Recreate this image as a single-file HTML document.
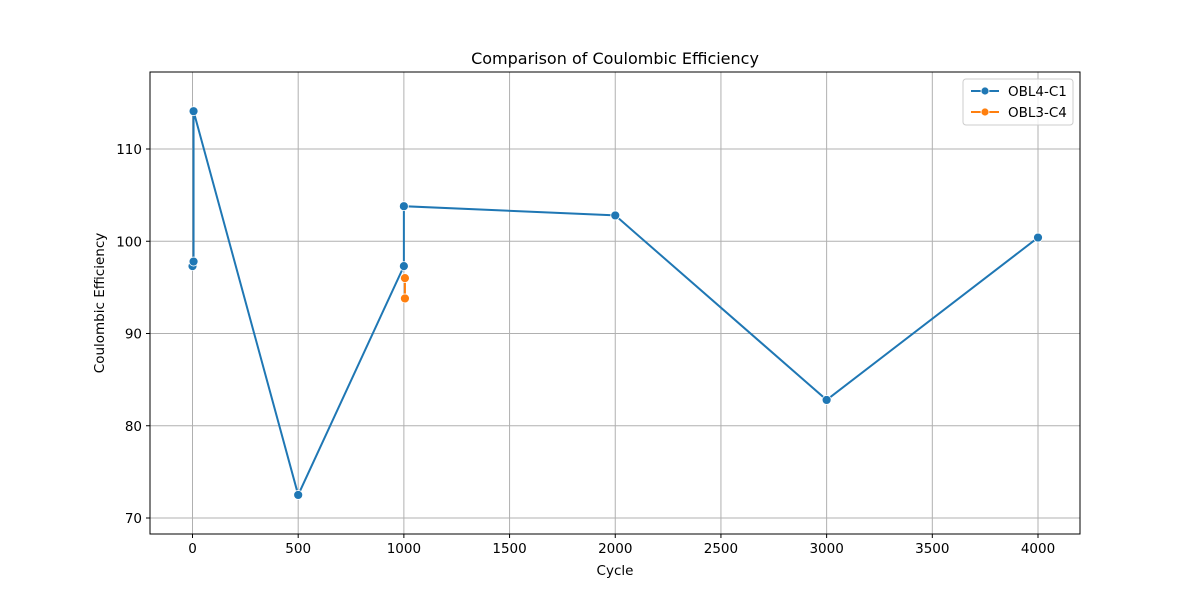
<!DOCTYPE html>
<html><head><meta charset="utf-8"><style>
body{margin:0;background:#fff;}
svg text{font-family:"DejaVu Sans","Liberation Sans",sans-serif;fill:#000;}
</style></head><body>
<svg width="1200" height="600" xmlns="http://www.w3.org/2000/svg">
<g id="grid"></g>
<g id="axes"></g>
<g id="series"></g>
<text x="615" y="64" font-size="16" text-anchor="middle">Comparison of Coulombic Efficiency</text>
<text x="615" y="575" font-size="13.5" text-anchor="middle">Cycle</text>
<text x="104" y="303" font-size="13.5" text-anchor="middle" transform="rotate(-90 104 303)">Coulombic Efficiency</text>
<g>
<rect x="963" y="79" width="110" height="46" rx="3" fill="#fff" fill-opacity="0.8" stroke="#ccc"/>
<g><line x1="971" y1="91" x2="999" y2="91" stroke="#1f77b4" stroke-width="2"/><circle cx="985" cy="91" r="4" fill="#1f77b4" stroke="#fff" stroke-width="0.8"/><text x="1008" y="96" font-size="13.5">OBL4-C1</text></g>
<g><line x1="971" y1="112" x2="999" y2="112" stroke="#ff7f0e" stroke-width="2"/><circle cx="985" cy="112" r="4" fill="#ff7f0e" stroke="#fff" stroke-width="0.8"/><text x="1008" y="117" font-size="13.5">OBL3-C4</text></g>
</g>
</svg>
<script>
const xTicks=[0,500,1000,1500,2000,2500,3000,3500,4000];
const yTicks=[70,80,90,100,110];
const s1x=[0,5,5,500,1000,1000,2000,3000,4000];
const s1y=[97.3,97.8,114.1,72.5,97.3,103.8,102.8,82.8,100.4];
const s2x=[1005,1005];
const s2y=[96.0,93.8];
const L=150,R=1080,T=72,B=534;
const X=v=>192.5+v*(1038-192.5)/4000;
const Y=v=>518-(v-70)*(518-149)/40;
const ns="http://www.w3.org/2000/svg";
function mk(t,a,p){const e=document.createElementNS(ns,t);for(const k in a)e.setAttribute(k,a[k]);p.appendChild(e);return e;}
const g=document.getElementById('grid'),ax=document.getElementById('axes'),se=document.getElementById('series');
xTicks.forEach(v=>{const x=X(v);
const l=mk('line',{x1:x,x2:x,y1:T,y2:B,stroke:'#b0b0b0','stroke-width':1},g);

mk('line',{x1:x,x2:x,y1:B,y2:B+4,stroke:'#000'},ax);
const t=mk('text',{x:x,y:B+19,'font-size':13.5,'text-anchor':'middle'},ax);t.textContent=v;
});
yTicks.forEach(v=>{const y=Y(v);
const l=mk('line',{x1:L,x2:R,y1:y,y2:y,stroke:'#b0b0b0','stroke-width':1},g);

mk('line',{x1:L-4,x2:L,y1:y,y2:y,stroke:'#000'},ax);
const t=mk('text',{x:L-8,y:y+5,'font-size':13.5,'text-anchor':'end'},ax);t.textContent=v;
});
const fr=mk('rect',{x:L,y:T,width:R-L,height:B-T,fill:'none',stroke:'#000','stroke-width':1},ax);

function draw(xs,ys,c,n){
const p=mk('polyline',{points:xs.map((x,i)=>X(x)+','+Y(ys[i])).join(' '),fill:'none',stroke:c,'stroke-width':2},se);

xs.forEach((x,i)=>{const m=mk('circle',{cx:X(x),cy:Y(ys[i]),r:4.5,fill:c,stroke:'#fff','stroke-width':0.8},se);
});}
draw(s1x,s1y,'#1f77b4','obl4-c1');
draw(s2x,s2y,'#ff7f0e','obl3-c4');
</script>
</body></html>
